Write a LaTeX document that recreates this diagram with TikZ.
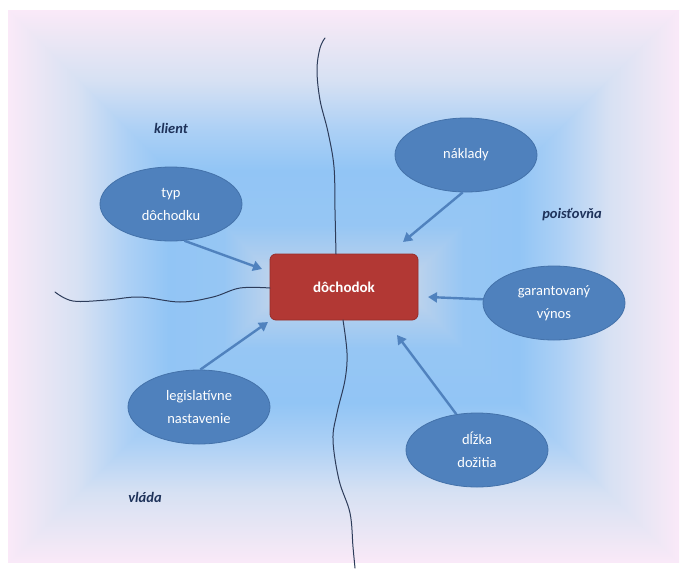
\documentclass[tikz,border=0pt]{standalone}
\usepackage{fontspec}
\setmainfont{Carlito}
\usetikzlibrary{arrows.meta,shapes.geometric}
\definecolor{bgA}{RGB}{250,233,248}
\definecolor{bgB}{RGB}{237,231,245}
\definecolor{bgC}{RGB}{215,225,243}
\definecolor{bgD}{RGB}{172,208,245}
\definecolor{bgE}{RGB}{146,197,245}
\definecolor{bgF}{RGB}{150,198,244}
\definecolor{bgG}{RGB}{178,207,238}
\definecolor{bgH}{RGB}{200,215,235}
\definecolor{bubblefill}{RGB}{79,129,189}
\definecolor{bubbleline}{RGB}{68,114,170}
\definecolor{arrowcol}{RGB}{80,130,190}
\definecolor{corefill}{RGB}{178,56,52}
\definecolor{coreline}{RGB}{150,45,42}
\definecolor{labelcol}{RGB}{30,50,90}
\definecolor{wavecol}{RGB}{45,60,90}
\pgfdeclareverticalshading{bgtop}{100bp}{color(0bp)=(bgH); color(25bp)=(bgH); color(29.8bp)=(bgG); color(36.13bp)=(bgF); color(46.07bp)=(bgE); color(53.3bp)=(bgD); color(62.34bp)=(bgC); color(70.48bp)=(bgB); color(75bp)=(bgA); color(100bp)=(bgA)}
\pgfdeclareverticalshading{bgbottom}{100bp}{color(0bp)=(bgA); color(25bp)=(bgA); color(29.52bp)=(bgB); color(37.66bp)=(bgC); color(46.7bp)=(bgD); color(53.93bp)=(bgE); color(63.87bp)=(bgF); color(70.2bp)=(bgG); color(75bp)=(bgH); color(100bp)=(bgH)}
\pgfdeclarehorizontalshading{bgleft}{100bp}{color(0bp)=(bgA); color(25bp)=(bgA); color(29.52bp)=(bgB); color(37.66bp)=(bgC); color(46.7bp)=(bgD); color(53.93bp)=(bgE); color(63.87bp)=(bgF); color(70.2bp)=(bgG); color(75bp)=(bgH); color(100bp)=(bgH)}
\pgfdeclarehorizontalshading{bgright}{100bp}{color(0bp)=(bgH); color(25bp)=(bgH); color(29.8bp)=(bgG); color(36.13bp)=(bgF); color(46.07bp)=(bgE); color(53.3bp)=(bgD); color(62.34bp)=(bgC); color(70.48bp)=(bgB); color(75bp)=(bgA); color(100bp)=(bgA)}
\tikzset{
  bubble/.style={ellipse, fill=bubblefill, draw=bubbleline, line width=0.8pt,
    minimum width=142pt, minimum height=74pt, inner sep=0pt, text=white,
    font=\fontsize{14.5}{23}\selectfont, align=center},
  core/.style={rectangle, rounded corners=6pt, fill=corefill, draw=coreline,
    line width=0.8pt, minimum width=148pt, minimum height=66pt, text=white,
    font=\fontsize{15}{17}\selectfont\bfseries},
  conn/.style={draw=arrowcol, line width=2.4pt, -{Triangle[length=9pt,width=10pt]}},
  side/.style={font=\fontsize{14.5}{16}\selectfont\bfseries\itshape, text=labelcol},
  wave/.style={draw=wavecol, line width=1pt, line cap=round}
}
\begin{document}
\begin{tikzpicture}[x=1pt,y=-1pt]
\useasboundingbox (0,0) rectangle (686,571);
\fill[white] (0,0) rectangle (686,571);
% background: rectangular gradient
\fill[bgC] (8,10) rectangle (679,563);
\shade[shading=bgtop] (8,10) -- (679,10) -- (402.5,286.5) -- (284.5,286.5) -- cycle;
\shade[shading=bgbottom] (8,563) -- (679,563) -- (402.5,286.5) -- (284.5,286.5) -- cycle;
\shade[shading=bgleft] (8,9.3) -- (285.2,286.5) -- (8,563.7) -- cycle;
\shade[shading=bgright] (679,9.3) -- (401.8,286.5) -- (679,563.7) -- cycle;
\fill[white] (0,0) rectangle (686,10);
\fill[white] (0,563) rectangle (686,571);

% central node
\node[core] (core) at (344,287) {dôchodok};

% wavy divider lines
\coordinate (wtop) at (336,254);
\coordinate (wtopend) at (325,38);
\coordinate (wbot) at (343,320);
\coordinate (wbotend) at (355,568);
\coordinate (wleft) at (270,288);
\coordinate (wleftend) at (55,292);
\draw[wave] plot[smooth, tension=0.6] coordinates {(wtopend) (320,48) (317,70) (320,100) (328,132) (334,167) (335,210) (wtop)};
\draw[wave] plot[smooth, tension=0.6] coordinates {(wbot) (347,353) (345,380) (337,413) (333,440) (339,480) (350,513) (353,547) (wbotend)};
\draw[wave] plot[smooth, tension=0.6] coordinates {(wleftend) (73,301) (107,300) (140,297) (180,302) (213,297) (240,288) (wleft)};

% bubbles
\node[bubble] (typ) at (171,204) {typ\\dôchodku};
\node[bubble] (nak) at (466,155) {náklady};
\node[bubble] (gar) at (554,303) {garantovaný\\výnos};
\node[bubble] (leg) at (199,407) {legislatívne\\nastavenie};
\node[bubble] (dlz) at (477,450) {dĺžka\\dožitia};

% side labels
\node[side] (kl) at (171,128) {klient};
\node[side] (po) at (572,215) {poisťovňa};
\node[side] (vl) at (145,497) {vláda};

% arrows
\coordinate (t1) at (262,269);
\coordinate (t2) at (403,242);
\coordinate (t3) at (428,297);
\coordinate (t4) at (268,322);
\coordinate (t5) at (397,335);
\draw[conn] (typ.-70) -- (t1);
\draw[conn] (nak.-95) -- (t2);
\draw[conn] (gar.177) -- (t3);
\draw[conn] (leg.88) -- (t4);
\draw[conn] (dlz.120) -- (t5);
\end{tikzpicture}
\end{document}
